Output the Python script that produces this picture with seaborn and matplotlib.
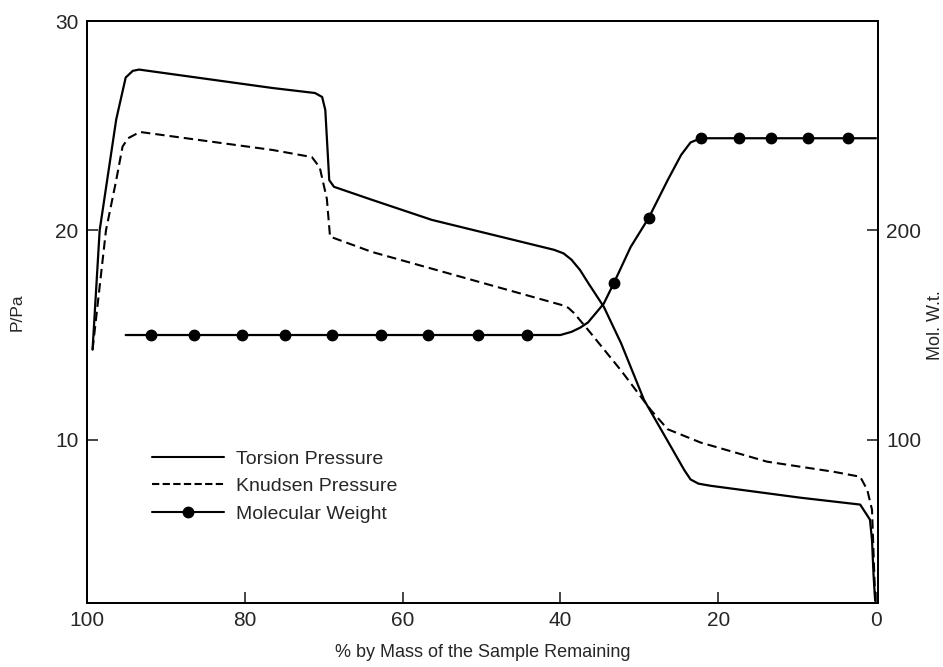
import matplotlib
matplotlib.use("Agg")
import matplotlib.pyplot as plt
from matplotlib.lines import Line2D
import pandas as pd
import seaborn as sns

# values
torsion_x = [99.3, 98.4, 96.3, 95.1, 94.2, 93.4, 76.5, 71.1, 70.2, 69.8, 69.3, 68.7,
             63.9, 56.3, 40.8, 39.6, 38.6, 37.5, 36.5, 34.5, 32.3, 29.4, 26.5, 24.3,
             23.5, 22.5, 21.0, 9.6, 2.0, 0.76, 0.5, 0.3, 0.1]
torsion_y = [14.3, 20.0, 25.3, 27.3, 27.62, 27.68, 26.8, 26.56, 26.37, 25.75, 22.4, 22.08,
             21.46, 20.5, 19.07, 18.9, 18.6, 18.1, 17.5, 16.35, 14.6, 11.9, 10.0, 8.55,
             8.1, 7.9, 7.8, 7.23, 6.9, 6.18, 5.2, 3.5, 2.3]

knudsen_x = [99.3, 97.6, 96.3, 95.5, 94.8, 93.3, 76.5, 71.5, 70.5, 69.6, 69.2, 63.9,
             39.9, 39.0, 38.3, 37.5, 36.5, 32.3, 28.5, 26.4, 22.2, 13.8, 5.4, 2.0, 1.1,
             0.5, 0.3, 0.1]
knudsen_y = [14.3, 20.0, 22.4, 24.0, 24.4, 24.7, 23.84, 23.5, 23.0, 21.5, 19.7, 18.97,
             16.44, 16.3, 16.06, 15.7, 15.25, 13.3, 11.4, 10.5, 9.86, 8.95, 8.47, 8.23, 7.6,
             6.65, 4.5, 2.4]

mw_x = [95.1, 40.0, 38.6, 37.5, 36.5, 34.5, 33.2, 31.1, 28.8, 26.4, 24.7, 23.5, 22.2, 0.0]
mw_y = [150, 150, 151.5, 153.5, 156, 165, 175, 192, 206, 224, 236, 242, 244, 244]

mw_dot_x = [91.9, 86.4, 80.3, 74.9, 68.9, 62.7, 56.8, 50.4, 44.2, 33.2, 28.8,
            22.2, 17.4, 13.3, 8.6, 3.5]
mw_dot_y = [150, 150, 150, 150, 150, 150, 150, 150, 150, 175, 206,
            244, 244, 244, 244, 244]

labels = ["Torsion Pressure", "Knudsen Pressure", "Molecular Weight"]

sns.set_style("ticks")
plt.rcParams["font.family"] = ["Liberation Sans", "DejaVu Sans"]

fig = plt.figure(figsize=(9.43, 6.67), dpi=100)
ax = fig.add_axes([0.0923, 0.096, 0.8387, 0.8725])
ax2 = ax.twinx()

torsion = pd.DataFrame({"x": torsion_x, "y": torsion_y})
knudsen = pd.DataFrame({"x": knudsen_x, "y": knudsen_y})
mw = pd.DataFrame({"x": mw_x, "y": mw_y})

sns.lineplot(data=torsion, x="x", y="y", ax=ax, sort=False, estimator=None,
             color="black", linewidth=1.6)
sns.lineplot(data=knudsen, x="x", y="y", ax=ax, sort=False, estimator=None,
             color="black", linewidth=1.5)
ax.lines[-1].set_dashes((4.5, 2.4))
sns.lineplot(data=mw, x="x", y="y", ax=ax2, sort=False, estimator=None,
             color="black", linewidth=1.6)
ax2.plot(mw_dot_x, mw_dot_y, "o", color="black", markersize=7.5)

ax.set_xlim(99.6, -0.25)
ax.set_ylim(2.2, 30)
ax2.set_ylim(22, 300)

ax.set_xticks([100, 80, 60, 40, 20, 0])
ax.set_yticks([10, 20, 30])
ax2.set_yticks([100, 200])
for a in (ax, ax2):
    a.tick_params(direction="in", length=8, width=1.2, labelsize=15, pad=6)
    for s in a.spines.values():
        s.set_linewidth(1.4)
        s.set_color("black")

ax.set_xlabel("% by Mass of the Sample Remaining", fontsize=13, labelpad=10)
ax.set_ylabel("P/Pa", fontsize=12.5, labelpad=22)
ax2.set_ylabel("Mol. W.t.", fontsize=13)
ax2.yaxis.set_label_coords(1.062, 0.478)

handles = [
    Line2D([], [], color="black", linewidth=1.5),
    Line2D([], [], color="black", linewidth=1.5, dashes=(3.5, 1.6)),
    Line2D([], [], color="black", linewidth=1.5, marker="o", markersize=7.5),
]
fig.legend(handles, labels, loc="upper left", bbox_to_anchor=(0.161, 0.325),
           frameon=False, fontsize=14, handlelength=3.7, handletextpad=0.65,
           labelspacing=0.5, borderpad=0, borderaxespad=0)

fig.savefig("out.png", dpi=100)
